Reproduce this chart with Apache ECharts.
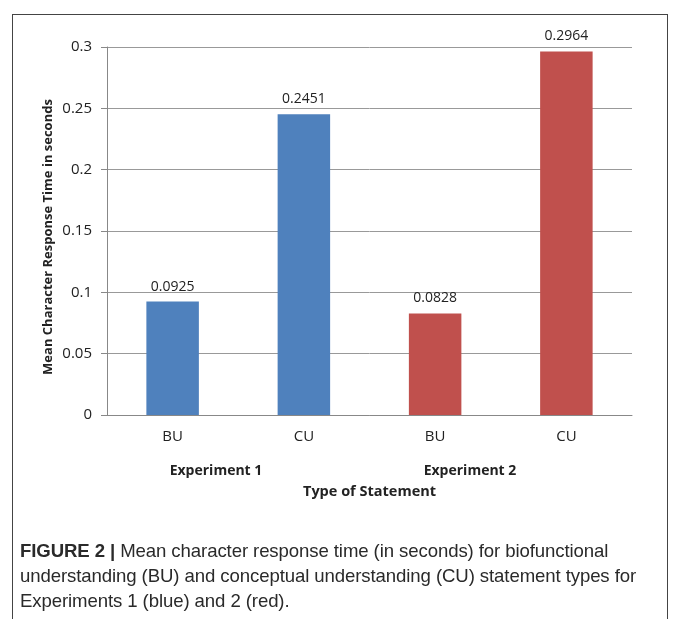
<!DOCTYPE html>
<html><head><meta charset="utf-8">
<script src="https://cdn.jsdelivr.net/npm/echarts@6/dist/echarts.min.js"></script>
<style>
html,body{margin:0;padding:0;background:#fff;}
#frame{position:absolute;left:12px;top:14px;width:656px;height:620px;border:1px solid #444;border-bottom:none;box-sizing:border-box;}
#chart{position:absolute;left:0;top:0;width:673px;height:619px;}
#cap{position:absolute;left:20px;top:538px;width:645px;font-family:"Liberation Sans",Arial,sans-serif;font-size:18.6px;line-height:25px;color:#2a2a2a;letter-spacing:-0.1px;}
</style></head>
<body>
<div id="frame"></div>
<div id="chart"></div>
<div id="cap"><b>FIGURE 2 |</b> Mean character response time (in seconds) for biofunctional understanding (BU) and conceptual understanding (CU) statement types for Experiments 1 (blue) and 2 (red).</div>
<script>
const categories = ["BU", "CU", "BU", "CU"];
const values = [0.0925, 0.2451, 0.0828, 0.2964];
const labels = ["0.0925", "0.2451", "0.0828", "0.2964"];
const experiments = ["Experiment 1", "Experiment 2"];
const yTitle = "Mean Character Response Time in seconds";
const colors = ["#4F81BD", "#4F81BD", "#C0504D", "#C0504D"];

const chart = echarts.init(document.getElementById('chart'));
const font = "'Open Sans', sans-serif";
chart.setOption({
  animation: false,
  grid: {left: 107, right: 41, top: 47, bottom: 204},
  xAxis: {
    type: 'category', data: categories,
    axisLine: {lineStyle: {color: '#888'}},
    axisTick: {show: false},
    axisLabel: {color: '#222', fontSize: 15, fontFamily: font, margin: 14},
    name: 'Type of Statement', nameLocation: 'middle', nameGap: 69,
    nameTextStyle: {color: '#222', fontSize: 14.5, fontWeight: 'bold', fontFamily: font}
  },
  yAxis: {
    type: 'value', min: 0, max: 0.3, interval: 0.05,
    axisLine: {show: true, lineStyle: {color: '#888'}},
    axisTick: {show: true, length: 6, lineStyle: {color: '#888'}},
    splitLine: {lineStyle: {color: '#999'}},
    axisLabel: {color: '#222', fontSize: 15, fontFamily: font, margin: 15,
      formatter: v => String(+v.toFixed(2))}
  },
  series: [{
    type: 'bar', barWidth: '40%',
    data: values.map((v, i) => ({value: v, itemStyle: {color: colors[i]}})),
    label: {show: true, position: 'top', distance: 8, color: '#222', fontSize: 14, fontFamily: font,
      formatter: p => labels[p.dataIndex]}
  }],
  graphic: [
    {type: 'text', x: 48, y: 237, rotation: Math.PI / 2, style: {text: yTitle, fill: '#222', font: "bold 13px " + font, textAlign: 'center', textVerticalAlign: 'middle'}},
    {type: 'text', x: 216, y: 471, style: {text: experiments[0], fill: '#222', font: "bold 14px " + font, textAlign: 'center', textVerticalAlign: 'middle'}},
    {type: 'text', x: 470, y: 471, style: {text: experiments[1], fill: '#222', font: "bold 14px " + font, textAlign: 'center', textVerticalAlign: 'middle'}}
  ]
});
</script>
</body></html>
